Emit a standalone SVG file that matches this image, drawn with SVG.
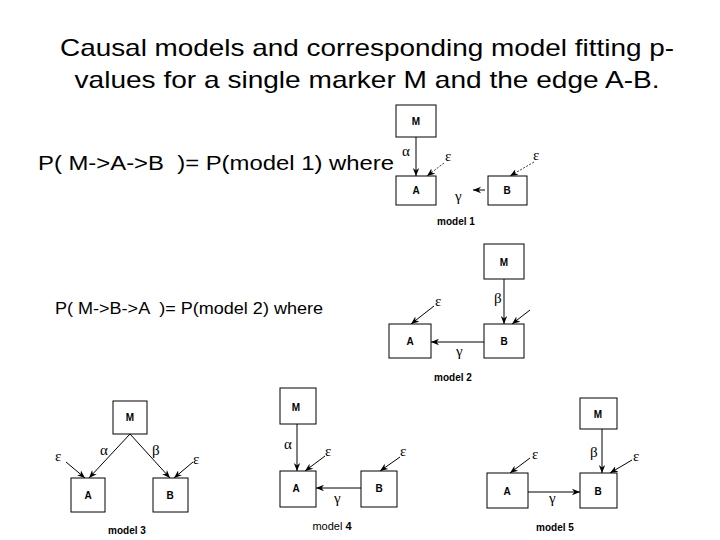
<svg xmlns="http://www.w3.org/2000/svg" width="720" height="540" viewBox="0 0 720 540">
<style>
.t{font-family:"Liberation Sans",Arial,sans-serif;fill:#000;white-space:pre}
.bx{fill:#fff;stroke:#000;stroke-width:1}
.nl{font-family:"Liberation Sans",Arial,sans-serif;font-size:10px;font-weight:bold;text-anchor:middle}
.ml{font-family:"Liberation Sans",Arial,sans-serif;font-size:10px;font-weight:bold;text-anchor:middle}
.g{font-family:"Liberation Serif","DejaVu Serif",serif;font-size:15px}
.e{stroke:#000;stroke-width:1;fill:none;marker-end:url(#ah)}
.d{stroke:#000;stroke-width:0.8;stroke-dasharray:2,1.5;fill:none;marker-end:url(#ah)}
</style>
<defs>
<marker id="ah" viewBox="0 0 10 10" refX="10" refY="5" markerWidth="8" markerHeight="8" orient="auto" markerUnits="userSpaceOnUse">
<path d="M0,1 L10,5 L0,9 L3,5 Z" fill="#000"/>
</marker>
</defs>
<rect width="720" height="540" fill="#fff"/>
<text class="t" x="367" y="56" font-size="24" text-anchor="middle" textLength="614" lengthAdjust="spacingAndGlyphs">Causal models and corresponding model fitting p-</text>
<text class="t" x="367" y="88" font-size="24" text-anchor="middle" textLength="585" lengthAdjust="spacingAndGlyphs">values for a single marker M and the edge A-B.</text>
<text class="t" x="38" y="170" font-size="20" textLength="356" lengthAdjust="spacingAndGlyphs">P( M-&gt;A-&gt;B  )= P(model 1) where</text>
<text class="t" x="55" y="314" font-size="16" textLength="268" lengthAdjust="spacingAndGlyphs">P( M-&gt;B-&gt;A  )= P(model 2) where</text>

<g id="connectors">
<line class="e" x1="416" y1="137" x2="416" y2="176"/>
<line class="d" x1="444" y1="163" x2="427" y2="176"/>
<line class="d" x1="534" y1="162" x2="510" y2="176"/>
<line class="e" x1="485" y1="190" x2="473" y2="190"/>
<line class="e" x1="504" y1="279" x2="504" y2="324"/>
<line class="e" x1="484" y1="342" x2="431" y2="342"/>
<line class="e" x1="434" y1="306" x2="411" y2="324"/>
<line class="e" x1="530" y1="310" x2="512" y2="324"/>
<line class="e" x1="130" y1="434" x2="89" y2="478"/>
<line class="e" x1="130" y1="434" x2="170" y2="478"/>
<line class="e" x1="66" y1="462" x2="85" y2="478"/>
<line class="e" x1="193" y1="462" x2="174" y2="478"/>
<line class="e" x1="297" y1="424" x2="297" y2="471"/>
<line class="e" x1="361" y1="488" x2="316" y2="488"/>
<line class="e" x1="325" y1="456" x2="305" y2="471"/>
<line class="e" x1="400" y1="457" x2="380" y2="471"/>
<line class="e" x1="602" y1="429" x2="602" y2="473"/>
<line class="e" x1="528" y1="492" x2="580" y2="492"/>
<line class="e" x1="530" y1="458" x2="510" y2="473"/>
<line class="e" x1="632" y1="460" x2="610" y2="473"/>
</g>

<g id="model1">
<rect class="bx" x="396" y="105" width="40" height="32"/><text class="nl" x="416" y="125">M</text>
<rect class="bx" x="396" y="176" width="40" height="29"/><text class="nl" x="416" y="194">A</text>
<rect class="bx" x="488" y="176" width="39" height="29"/><text class="nl" x="507" y="194">B</text>
<text class="g" x="402" y="156">α</text><text class="g" x="445" y="161">ε</text>
<text class="g" x="533" y="160">ε</text><text class="g" x="455" y="201">γ</text>
<text class="ml" x="456" y="225">model 1</text>
</g>
<g id="model2">
<rect class="bx" x="484" y="244" width="40" height="35"/><text class="nl" x="504" y="266">M</text>
<rect class="bx" x="484" y="324" width="40" height="34"/><text class="nl" x="504" y="345">B</text>
<rect class="bx" x="389" y="324" width="42" height="34"/><text class="nl" x="410" y="345">A</text>
<text class="g" x="494" y="303">β</text><text class="g" x="435" y="306">ε</text>
<text class="g" x="456" y="356">γ</text>
<text class="ml" x="453" y="381">model 2</text>
</g>
<g id="model3">
<rect class="bx" x="113" y="401" width="34" height="33"/><text class="nl" x="130" y="421">M</text>
<rect class="bx" x="71" y="478" width="34" height="34"/><text class="nl" x="88" y="499">A</text>
<rect class="bx" x="153" y="478" width="35" height="34"/><text class="nl" x="170" y="499">B</text>
<text class="g" x="100" y="455">α</text><text class="g" x="152" y="455">β</text>
<text class="g" x="55" y="461">ε</text><text class="g" x="193" y="464">ε</text>
<text class="ml" x="127" y="534">model 3</text>
</g>
<g id="model4">
<rect class="bx" x="280" y="388" width="36" height="36"/><text class="nl" x="296" y="411">M</text>
<rect class="bx" x="280" y="471" width="36" height="36"/><text class="nl" x="296" y="492">A</text>
<rect class="bx" x="361" y="471" width="36" height="36"/><text class="nl" x="379" y="492">B</text>
<text class="g" x="284" y="449">α</text><text class="g" x="325" y="456">ε</text>
<text class="g" x="400" y="456">ε</text><text class="g" x="334" y="503">γ</text>
<text class="t" x="332" y="530" font-size="11" text-anchor="middle">model <tspan font-weight="bold">4</tspan></text>
</g>
<g id="model5">
<rect class="bx" x="580" y="398" width="37" height="31"/><text class="nl" x="598" y="418">M</text>
<rect class="bx" x="580" y="473" width="37" height="35"/><text class="nl" x="598" y="495">B</text>
<rect class="bx" x="487" y="473" width="41" height="35"/><text class="nl" x="507" y="495">A</text>
<text class="g" x="590" y="457">β</text><text class="g" x="532" y="459">ε</text>
<text class="g" x="633" y="461">ε</text><text class="g" x="549" y="503">γ</text>
<text class="ml" x="555" y="531">model 5</text>
</g>
</svg>
